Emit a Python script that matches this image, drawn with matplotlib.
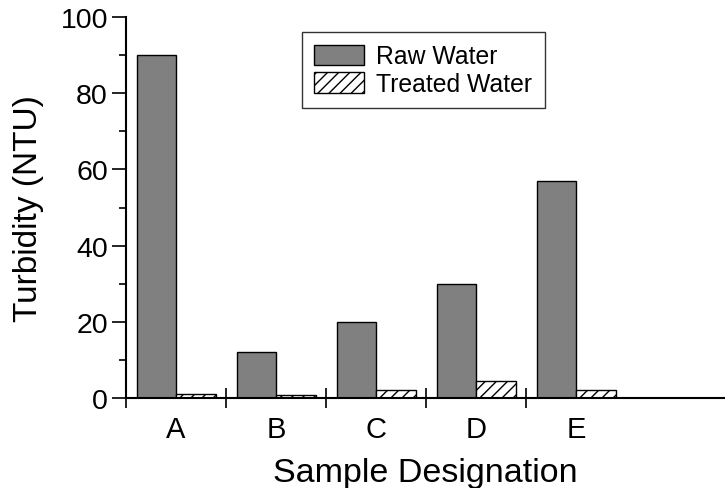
import matplotlib.pyplot as plt
import numpy as np

plt.rcParams['font.family'] = ['Liberation Sans', 'DejaVu Sans']

samples = ['A', 'B', 'C', 'D', 'E']
raw_water = [90, 12, 20, 30, 57]
treated_water = [1.0, 0.8, 2.0, 4.5, 2.0]

fig = plt.figure(figsize=(7.25, 4.89), dpi=100)
ax = fig.add_axes([126 / 725, 90 / 489, 599 / 725, 381 / 489])

x = np.arange(len(samples))
w = 0.395
ax.bar(x - w / 2, raw_water, w, color='#808080', edgecolor='black',
       linewidth=1, label='Raw Water')
ax.bar(x + w / 2, treated_water, w, color='white', edgecolor='black',
       linewidth=1, hatch='///', label='Treated Water')

ax.set_xlim(-0.5, 5.49)
ax.set_ylim(0, 100)

# category boundaries get the ticks, the labels sit between them
ax.set_xticks(np.arange(len(samples)) - 0.5)
ax.set_xticklabels([])
ax.set_xticks(x, minor=True)
ax.set_xticklabels(samples, minor=True)
ax.tick_params(axis='x', which='major', direction='inout', length=14, width=1.2)
ax.tick_params(axis='x', which='minor', length=0, labelsize=21, pad=12)

ax.set_yticks(np.arange(0, 101, 20))
ax.set_yticks(np.arange(10, 100, 20), minor=True)
ax.tick_params(axis='y', which='major', direction='out', length=10, width=1.2,
               labelsize=20.5, pad=3)
ax.tick_params(axis='y', which='minor', direction='out', length=5, width=1.2)

for s in ['top', 'right']:
    ax.spines[s].set_visible(False)
for s in ['left', 'bottom']:
    ax.spines[s].set_linewidth(1.5)

ax.set_ylabel('Turbidity (NTU)', fontsize=24, labelpad=12)
ax.set_xlabel('Sample Designation', fontsize=24.5, labelpad=10)

leg = ax.legend(loc='upper left', bbox_to_anchor=(176 / 599, 366 / 381),
                fontsize=17.8, frameon=True, fancybox=False, edgecolor='black',
                handlelength=2.0, handleheight=0.9, borderpad=0.5,
                labelspacing=0.15, handletextpad=0.5, borderaxespad=0)
leg.get_frame().set_linewidth(1.0)

fig.savefig('out.png', dpi=100)
